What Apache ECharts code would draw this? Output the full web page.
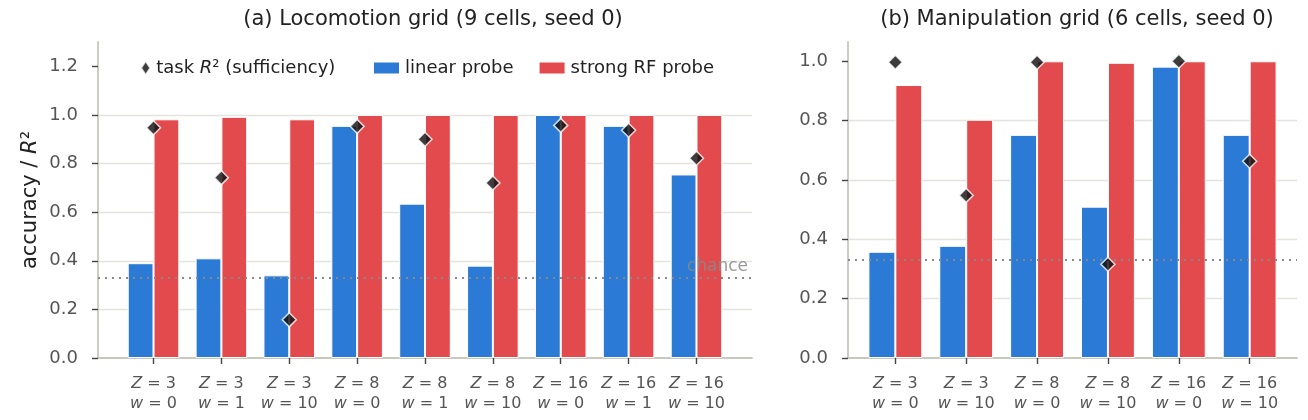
<!DOCTYPE html>
<html>
<head>
<meta charset="utf-8">
<title>probe accuracy</title>
<script src="https://cdn.jsdelivr.net/npm/echarts@6/dist/echarts.min.js"></script>
<style>
  html, body { margin: 0; padding: 0; background: #fff; }
  #chart { width: 1308px; height: 420px; }
</style>
</head>
<body>
<div id="chart"></div>
<script>
// locomotion grid (9 cells)
const locoZ = [3, 3, 3, 8, 8, 8, 16, 16, 16];
const locoW = [0, 1, 10, 0, 1, 10, 0, 1, 10];
const locoLinear = [0.39, 0.41, 0.34, 0.955, 0.635, 0.38, 1.0, 0.955, 0.755];
const locoRF = [0.982, 0.992, 0.982, 1.0, 1.0, 1.0, 1.0, 1.0, 1.0];
const locoTask = [0.947, 0.742, 0.157, 0.953, 0.9, 0.72, 0.957, 0.937, 0.822];

// manipulation grid (6 cells)
const maniZ = [3, 3, 8, 8, 16, 16];
const maniW = [0, 10, 0, 10, 0, 10];
const maniLinear = [0.358, 0.378, 0.752, 0.51, 0.982, 0.752];
const maniRF = [0.92, 0.803, 1.0, 0.995, 1.0, 1.0];
const maniTask = [0.997, 0.548, 0.997, 0.316, 1.0, 0.663];

const chanceLevel = 1 / 3;
const locoTicks = [0, 0.2, 0.4, 0.6, 0.8, 1.0, 1.2];
const maniTicks = [0, 0.2, 0.4, 0.6, 0.8, 1.0];

const FONT = "DejaVu Sans";
const BLUE = "#2b7ad6";
const RED = "#e34a4e";
const TASK_NAME = "task R2";

const toPoints = (arr) => arr.map((v, i) => [i, v]);
const idx = (n) => Array.from({ length: n }, (_, i) => i);

function xAxisFor(gridIndex, zs, ws) {
  const n = zs.length;
  const pad = (n - 1 + 0.76) * 0.05 + 0.38;
  return {
    type: "value",
    gridIndex: gridIndex,
    min: -pad,
    max: n - 1 + pad,
    axisLine: { show: true, onZero: false, lineStyle: { color: "#c9c8bd", width: 1.8 } },
    axisTick: { show: true, customValues: idx(n), length: 6, lineStyle: { color: "#444", width: 1.4 } },
    axisLabel: {
      customValues: idx(n),
      margin: 16,
      formatter: (v) => {
        const i = Math.round(v);
        return "{i|Z}{t| = " + zs[i] + "}\n{i|w}{t| = " + ws[i] + "}";
      },
      rich: {
        i: { fontFamily: FONT, fontStyle: "italic", fontSize: 16, color: "#555", lineHeight: 20 },
        t: { fontFamily: FONT, fontSize: 16, color: "#555", lineHeight: 20 },
      },
    },
    splitLine: { show: false },
  };
}

function yAxisFor(gridIndex, max, ticks, withName) {
  return {
    type: "value",
    gridIndex: gridIndex,
    min: 0,
    max: max,
    name: withName ? "accuracy / {i|R}²" : "",
    nameLocation: "middle",
    nameGap: 57,
    nameRotate: 90,
    nameTextStyle: {
      fontFamily: FONT,
      fontSize: 21,
      color: "#222",
      rich: { i: { fontFamily: FONT, fontStyle: "italic", fontSize: 21, color: "#222" } },
    },
    axisLine: { show: true, onZero: false, lineStyle: { color: "#c9c8bd", width: 1.8 } },
    axisTick: { show: true, customValues: ticks, length: 6, lineStyle: { color: "#444", width: 1.4 } },
    axisLabel: {
      customValues: ticks,
      margin: 20,
      fontFamily: FONT,
      fontSize: 18,
      color: "#555",
      formatter: (v) => v.toFixed(1),
    },
    splitLine: {
      show: true,
      showMinLine: false,
      showMaxLine: false,
      lineStyle: { color: "#e4e4de", width: 1.3 },
    },
  };
}

function barSeries(name, color, data, axisIndex) {
  return {
    name: name,
    type: "bar",
    xAxisIndex: axisIndex,
    yAxisIndex: axisIndex,
    data: toPoints(data),
    barWidth: "38%",
    barGap: "0%",
    itemStyle: { color: color, borderColor: "#fff", borderWidth: 1 },
    emphasis: { disabled: true },
    z: 2,
  };
}

function taskSeries(data, axisIndex, showLabel) {
  return {
    name: TASK_NAME,
    type: "scatter",
    xAxisIndex: axisIndex,
    yAxisIndex: axisIndex,
    data: toPoints(data),
    symbol: "diamond",
    symbolSize: [14, 14],
    itemStyle: { color: "#0d0d0d", borderColor: "#fff", borderWidth: 1.5 },
    z: 5,
    markLine: {
      silent: true,
      symbol: "none",
      data: [{ yAxis: chanceLevel }],
      lineStyle: { color: "#888", width: 2.2, type: [2, 5], cap: "butt" },
      label: {
        show: showLabel,
        position: "insideEndTop",
        formatter: "chance",
        fontFamily: FONT,
        fontSize: 17,
        color: "rgba(136,136,136,0.85)",
        distance: [4, 3],
      },
      z: 4,
    },
  };
}

const legendText = {
  fontFamily: FONT,
  fontSize: 18,
  color: "#222",
  rich: {
    t: { fontFamily: FONT, fontSize: 18, color: "#222" },
    i: { fontFamily: FONT, fontStyle: "italic", fontSize: 18, color: "#222" },
  },
};

const chartOption = {
  animation: false,
  backgroundColor: "#fff",
  textStyle: { fontFamily: FONT },
  title: [
    {
      text: "(a) Locomotion grid (9 cells, seed 0)",
      left: 428,
      textAlign: "center",
      top: 4,
      textStyle: { fontFamily: FONT, fontSize: 21, fontWeight: "normal", color: "#222" },
    },
    {
      text: "(b) Manipulation grid (6 cells, seed 0)",
      left: 1072,
      textAlign: "center",
      top: 4,
      textStyle: { fontFamily: FONT, fontSize: 21, fontWeight: "normal", color: "#222" },
    },
  ],
  legend: [
    {
      left: 135,
      top: 54,
      itemWidth: 11,
      itemHeight: 14,
      symbolKeepAspect: true,
      selectedMode: false,
      data: [{ name: TASK_NAME, icon: "path://M4,0 L8,6 L4,12 L0,6 Z" }],
      formatter: () => "{t|task }{i|R}{t|² (sufficiency)}",
      textStyle: legendText,
    },
    {
      left: 367,
      top: 54,
      itemWidth: 27,
      itemHeight: 13,
      itemGap: 24,
      selectedMode: false,
      data: [
        { name: "linear probe", icon: "rect" },
        { name: "strong RF probe", icon: "rect" },
      ],
      textStyle: legendText,
    },
  ],
  grid: [
    { left: 98, right: 556, top: 42, bottom: 62 },
    { left: 848, right: 11, top: 42, bottom: 62 },
  ],
  xAxis: [xAxisFor(0, locoZ, locoW), xAxisFor(1, maniZ, maniW)],
  yAxis: [yAxisFor(0, 1.3, locoTicks, true), yAxisFor(1, 1.065, maniTicks, false)],
  series: [
    barSeries("linear probe", BLUE, locoLinear, 0),
    barSeries("strong RF probe", RED, locoRF, 0),
    taskSeries(locoTask, 0, true),
    barSeries("linear probe", BLUE, maniLinear, 1),
    barSeries("strong RF probe", RED, maniRF, 1),
    taskSeries(maniTask, 1, false),
  ],
};

const myChart = echarts.init(document.getElementById("chart"), null, { renderer: "canvas" });
myChart.setOption(chartOption);
window.onresize = () => {
  myChart.resize();
};
</script>
</body>
</html>
